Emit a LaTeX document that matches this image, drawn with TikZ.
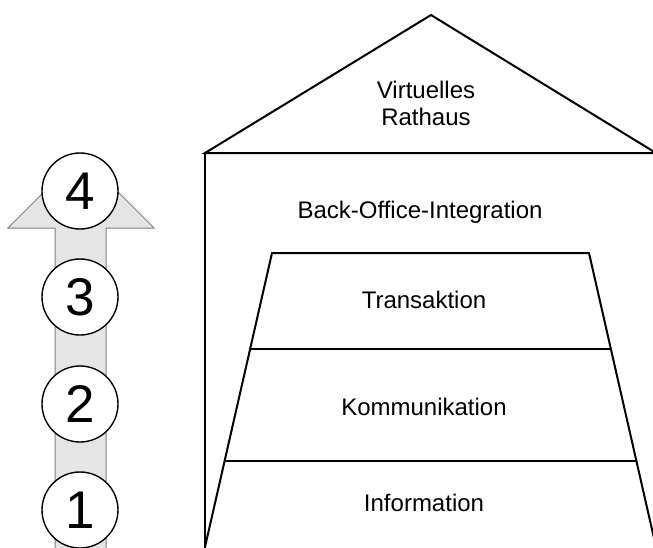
\documentclass[tikz,border=0pt]{standalone}
\usepackage{fontspec}
\setmainfont{Liberation Sans}
\begin{document}
\begin{tikzpicture}
[x=0.5pt,y=-0.5pt,
  wallDecorate/.style={draw,line width=1pt,line join=miter},
  levelDecorate/.style={anchor=base,inner sep=0pt,align=center,
    font=\fontsize{12}{13.5}\selectfont},
  stageDecorate/.style={shape=circle,draw,fill=white,line width=0.7pt,
    minimum size=38pt,inner sep=0pt,font=\fontsize{26.5}{26.5}\selectfont},
  arrowDecorate/.style={fill=gray!20,draw=gray,line width=0.5pt}]
\clip (0,0) rectangle (653,547);
%% stage arrow
\path[arrowDecorate] (55,560) -- (55,228) -- (8,228) -- (81,155)
  -- (154,228) -- (106,228) -- (106,560) -- cycle;
%% stages
\foreach \nodename/\y in {1/510, 2/404, 3/297, 4/191}
{
  \node (stage\nodename) at (80,\y) [stageDecorate] {\nodename};
}
%% house
\draw[wallDecorate] (205,153) -- (431,15) -- (656,153) -- cycle;
\draw[wallDecorate] (205,153) -- (205,560);
\draw[wallDecorate] (205,547) -- (272,253) -- (589,253) -- (656,547);
\draw[wallDecorate] (250,349) -- (611,349);
\draw[wallDecorate] (225,461) -- (636,461);
%% levels
\node (rathaus) at (426,125) [levelDecorate] {Virtuelles\\Rathaus};
\node (backoffice) at (420,218) [levelDecorate] {Back-Office-Integration};
\node (transaktion) at (424,308) [levelDecorate] {Transaktion};
\node (kommunikation) at (424,415) [levelDecorate] {Kommunikation};
\node (information) at (424,511) [levelDecorate] {Information};
\end{tikzpicture}
\end{document}
